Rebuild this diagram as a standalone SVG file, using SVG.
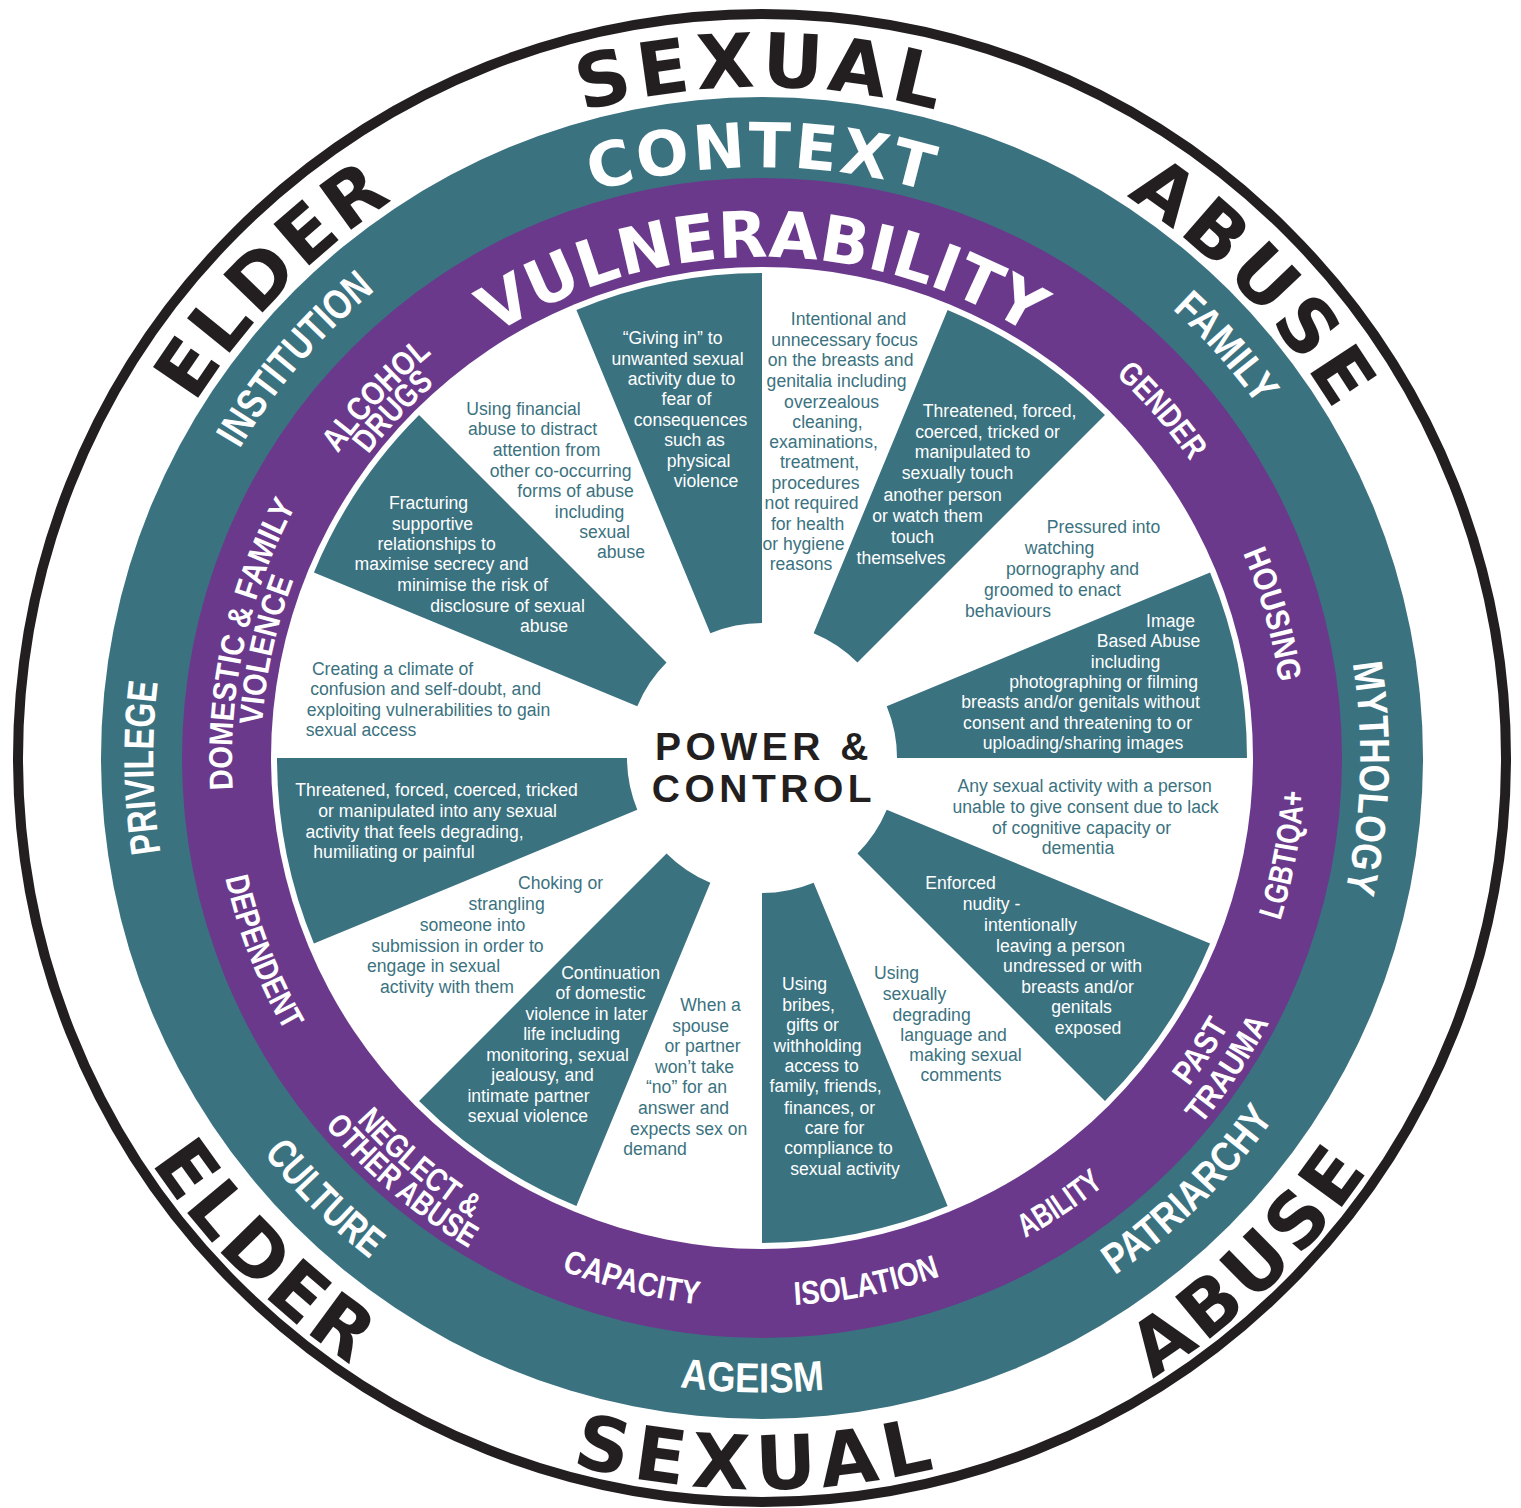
<svg xmlns="http://www.w3.org/2000/svg" width="1521" height="1508" viewBox="0 0 1521 1508">
<style>
.body{font-family:"Liberation Sans",Arial,sans-serif;font-size:17.6px;text-anchor:middle}
.tl{fill:#3b7280}
.wh{fill:#ffffff}
.big{font-family:"DejaVu Sans",sans-serif;font-weight:bold;fill:#231f20;font-size:75px;text-anchor:middle}
.hdr{font-family:"DejaVu Sans",sans-serif;font-weight:bold;fill:#ffffff;text-anchor:middle}
.ring{font-family:"Liberation Sans",Arial,sans-serif;font-weight:bold;fill:#ffffff;text-anchor:middle}
.tlab{font-size:42px}
.plab{font-size:33px}
.wedge{fill:#3b7280}
.pc{font-family:"Liberation Sans",Arial,sans-serif;font-weight:bold;font-size:39px;fill:#231f20;text-anchor:middle;letter-spacing:4.5px}
</style>
<defs>
<path id="pSexTop" d="M 91 758 A 671 671 0 0 1 1433 758"/>
<path id="pElderTop" d="M 292.53 1237.41 A 671 671 0 0 1 1231.47 278.59"/>
<path id="pAbuseTop" d="M 296.44 274.79 A 671 671 0 0 1 1227.56 1241.21"/>
<path id="pSexBot" d="M 29.02 752.88 A 733 733 0 0 0 1494.98 763.12"/>
<path id="pAbuseBot" d="M 235.96 1268.47 A 733 733 0 0 0 1288.04 247.53"/>
<path id="pElderBot" d="M 245.05 238.33 A 733 733 0 0 0 1278.95 1277.67"/>
<path id="pContext" d="M 171 758 A 591 591 0 0 1 1353 758"/>
<path id="pInstitution" d="M 367.78 1219.57 A 607 607 0 0 1 1156.22 296.43"/>
<path id="pFamily" d="M 359.13 302.63 A 608 608 0 0 1 1164.87 1213.37"/>
<path id="pMythology" d="M 781.86 159.33 A 599 599 0 0 1 742.14 1356.67"/>
<path id="pPrivilege" d="M 771.57 1366.93 A 609 609 0 0 1 752.43 149.07"/>
<path id="pCulture" d="M 309.29 308.45 A 638 638 0 0 0 1214.71 1207.55"/>
<path id="pAgeism" d="M 126.08 748.01 A 636 636 0 0 0 1397.92 767.99"/>
<path id="pPatriarchy" d="M 316.27 1197.55 A 626 626 0 0 0 1207.73 318.45"/>
<path id="pVuln" d="M 261 758 A 501 501 0 0 1 1263 758"/>
<path id="pGender" d="M 419.54 364.04 A 522 522 0 0 1 1104.46 1151.96"/>
<path id="pHousing" d="M 620.21 253.55 A 524 524 0 0 1 903.79 1262.45"/>
<path id="pLgbt" d="M 662.50 1294.85 A 546 546 0 0 0 861.50 221.15"/>
<path id="pPast" d="M 461.83 1208.08 A 541 541 0 0 0 1062.17 307.92"/>
<path id="pTrauma" d="M 444.63 1233.88 A 572 572 0 0 0 1079.37 282.12"/>
<path id="pAbility" d="M 305.26 1062.61 A 549 549 0 0 0 1218.74 453.39"/>
<path id="pIsolation" d="M 224.43 864.44 A 548 548 0 0 0 1299.57 651.56"/>
<path id="pCapacity" d="M 228.33 624.94 A 550 550 0 0 0 1295.67 891.06"/>
<path id="pNeglect" d="M 346.49 406.87 A 544 544 0 0 0 1177.51 1109.13"/>
<path id="pOther" d="M 325.64 386.63 A 573 573 0 0 0 1198.36 1129.37"/>
<path id="pDependent" d="M 563.11 245.22 A 550 550 0 0 0 960.89 1270.78"/>
<path id="pDomestic" d="M 647.29 1275.44 A 530 530 0 0 1 876.71 240.56"/>
<path id="pViolence" d="M 655.27 1247.50 A 501 501 0 0 1 868.73 268.50"/>
<path id="pAlcohol" d="M 404.51 1138.38 A 522 522 0 0 1 1119.49 377.62"/>
<path id="pDrugs" d="M 421.63 1120.16 A 497 497 0 0 1 1102.37 395.84"/>
</defs>

<rect width="1521" height="1508" fill="#ffffff"/>

<g id="rings">
<circle cx="762" cy="758" r="744" fill="none" stroke="#231f20" stroke-width="10"/>
<circle cx="762" cy="758" r="661" fill="#3b7280"/>
<circle cx="762" cy="758" r="580" fill="#6a398b"/>
<circle cx="762" cy="758" r="491" fill="#ffffff"/>
</g>

<g id="outer-title">
<text class="big" letter-spacing="6"><textPath href="#pSexTop" startOffset="50%">SEXUAL</textPath></text>
<text class="big" letter-spacing="4"><textPath href="#pElderTop" startOffset="50%">ELDER</textPath></text>
<text class="big" letter-spacing="5"><textPath href="#pAbuseTop" startOffset="50%">ABUSE</textPath></text>
<text class="big" letter-spacing="8"><textPath href="#pSexBot" startOffset="50%">SEXUAL</textPath></text>
<text class="big" letter-spacing="5"><textPath href="#pAbuseBot" startOffset="50%">ABUSE</textPath></text>
<text class="big" letter-spacing="4"><textPath href="#pElderBot" startOffset="50%">ELDER</textPath></text>
</g>

<g id="context-ring">
<text class="hdr" font-size="62" letter-spacing="2.5"><textPath href="#pContext" startOffset="50%">CONTEXT</textPath></text>
<text class="ring tlab"><textPath href="#pInstitution" startOffset="50%" textLength="210" lengthAdjust="spacingAndGlyphs">INSTITUTION</textPath></text>
<text class="ring tlab"><textPath href="#pFamily" startOffset="50%" textLength="129" lengthAdjust="spacingAndGlyphs">FAMILY</textPath></text>
<text class="ring tlab"><textPath href="#pMythology" startOffset="50%" textLength="230" lengthAdjust="spacingAndGlyphs">MYTHOLOGY</textPath></text>
<text class="ring tlab"><textPath href="#pPrivilege" startOffset="50%" textLength="171" lengthAdjust="spacingAndGlyphs">PRIVILEGE</textPath></text>
<text class="ring tlab"><textPath href="#pCulture" startOffset="50%" textLength="150" lengthAdjust="spacingAndGlyphs">CULTURE</textPath></text>
<text class="ring tlab"><textPath href="#pAgeism" startOffset="50%" textLength="145" lengthAdjust="spacingAndGlyphs">AGEISM</textPath></text>
<text class="ring tlab"><textPath href="#pPatriarchy" startOffset="50%" textLength="225" lengthAdjust="spacingAndGlyphs">PATRIARCHY</textPath></text>
</g>

<g id="vulnerability-ring">
<text class="hdr" font-size="64"><textPath href="#pVuln" startOffset="50%">VULNERABILITY</textPath></text>
<text class="ring plab"><textPath href="#pGender" startOffset="50%" textLength="114" lengthAdjust="spacingAndGlyphs">GENDER</textPath></text>
<text class="ring plab"><textPath href="#pHousing" startOffset="50%" textLength="135" lengthAdjust="spacingAndGlyphs">HOUSING</textPath></text>
<text class="ring plab"><textPath href="#pLgbt" startOffset="50%" textLength="132" lengthAdjust="spacingAndGlyphs">LGBTIQA+</textPath></text>
<text class="ring plab"><textPath href="#pPast" startOffset="50%" textLength="73" lengthAdjust="spacingAndGlyphs">PAST</textPath></text>
<text class="ring plab"><textPath href="#pTrauma" startOffset="50%" textLength="123" lengthAdjust="spacingAndGlyphs">TRAUMA</textPath></text>
<text class="ring plab"><textPath href="#pAbility" startOffset="50%" textLength="95" lengthAdjust="spacingAndGlyphs">ABILITY</textPath></text>
<text class="ring plab"><textPath href="#pIsolation" startOffset="50%" textLength="149" lengthAdjust="spacingAndGlyphs">ISOLATION</textPath></text>
<text class="ring plab"><textPath href="#pCapacity" startOffset="50%" textLength="142" lengthAdjust="spacingAndGlyphs">CAPACITY</textPath></text>
<text class="ring plab"><textPath href="#pNeglect" startOffset="50%" textLength="152" lengthAdjust="spacingAndGlyphs">NEGLECT &amp;</textPath></text>
<text class="ring plab"><textPath href="#pOther" startOffset="50%" textLength="190" lengthAdjust="spacingAndGlyphs">OTHER ABUSE</textPath></text>
<text class="ring plab"><textPath href="#pDependent" startOffset="50%" textLength="165" lengthAdjust="spacingAndGlyphs">DEPENDENT</textPath></text>
<text class="ring plab"><textPath href="#pDomestic" startOffset="50%" textLength="295" lengthAdjust="spacingAndGlyphs">DOMESTIC &amp; FAMILY</textPath></text>
<text class="ring plab"><textPath href="#pViolence" startOffset="50%" textLength="149" lengthAdjust="spacingAndGlyphs">VIOLENCE</textPath></text>
<text class="ring plab"><textPath href="#pAlcohol" startOffset="50%" textLength="138" lengthAdjust="spacingAndGlyphs">ALCOHOL</textPath></text>
<text class="ring plab"><textPath href="#pDrugs" startOffset="50%" textLength="97" lengthAdjust="spacingAndGlyphs">DRUGS</textPath></text>
</g>

<g id="wedge-giving-in">
<path class="wedge" d="M 576.40 309.92 A 485 485 0 0 1 762 273 L 762 623 A 135 135 0 0 0 710.34 633.28 Z"/>
<text class="body wh">
<tspan x="675" y="344">“Giving in” to</tspan>
<tspan x="680" y="365">unwanted sexual</tspan>
<tspan x="684" y="385">activity due to</tspan>
<tspan x="689" y="405">fear of</tspan>
<tspan x="693" y="426">consequences</tspan>
<tspan x="697" y="446">such as</tspan>
<tspan x="701" y="467">physical</tspan>
<tspan x="706" y="487">violence</tspan>
</text>
</g>

<g id="item-intentional-focus">
<text class="body tl">
<tspan x="851" y="325">Intentional and</tspan>
<tspan x="847" y="346">unnecessary focus</tspan>
<tspan x="843" y="366">on the breasts and</tspan>
<tspan x="839" y="387">genitalia including</tspan>
<tspan x="834" y="408">overzealous</tspan>
<tspan x="830" y="428">cleaning,</tspan>
<tspan x="826" y="448">examinations,</tspan>
<tspan x="822" y="468">treatment,</tspan>
<tspan x="818" y="489">procedures</tspan>
<tspan x="814" y="509">not required</tspan>
<tspan x="810" y="530">for health</tspan>
<tspan x="806" y="550">or hygiene</tspan>
<tspan x="801" y="570">reasons</tspan>
</text>
</g>

<g id="wedge-touch">
<path class="wedge" d="M 947.60 309.92 A 485 485 0 0 1 1104.95 415.05 L 857.46 662.54 A 135 135 0 0 0 813.66 633.28 Z"/>
<text class="body wh">
<tspan x="1002" y="417">Threatened, forced,</tspan>
<tspan x="990" y="438">coerced, tricked or</tspan>
<tspan x="975" y="458">manipulated to</tspan>
<tspan x="960" y="479">sexually touch</tspan>
<tspan x="945" y="501">another person</tspan>
<tspan x="930" y="522">or watch them</tspan>
<tspan x="915" y="543">touch</tspan>
<tspan x="901" y="564">themselves</tspan>
</text>
</g>

<g id="item-pornography">
<text class="body tl">
<tspan x="1106" y="533">Pressured into</tspan>
<tspan x="1062" y="554">watching</tspan>
<tspan x="1075" y="575">pornography and</tspan>
<tspan x="1055" y="596">groomed to enact</tspan>
<tspan x="1008" y="617">behaviours</tspan>
</text>
</g>

<g id="wedge-image-abuse">
<path class="wedge" d="M 1210.08 572.40 A 485 485 0 0 1 1247 758 L 897 758 A 135 135 0 0 0 886.72 706.34 Z"/>
<text class="body wh">
<tspan x="1173" y="627">Image</tspan>
<tspan x="1151" y="647">Based Abuse</tspan>
<tspan x="1128" y="668">including</tspan>
<tspan x="1106" y="688">photographing or filming</tspan>
<tspan x="1083" y="708">breasts and/or genitals without</tspan>
<tspan x="1080" y="729">consent and threatening to or</tspan>
<tspan x="1083" y="749">uploading/sharing images</tspan>
</text>
</g>

<g id="item-consent">
<text class="body tl">
<tspan x="1087" y="792">Any sexual activity with a person</tspan>
<tspan x="1088" y="813">unable to give consent due to lack</tspan>
<tspan x="1084" y="834">of cognitive capacity or</tspan>
<tspan x="1078" y="854">dementia</tspan>
</text>
</g>

<g id="wedge-nudity">
<path class="wedge" d="M 1210.08 943.60 A 485 485 0 0 1 1104.95 1100.95 L 857.46 853.46 A 135 135 0 0 0 886.72 809.66 Z"/>
<text class="body wh">
<tspan x="963" y="889">Enforced</tspan>
<tspan x="994" y="910">nudity -</tspan>
<tspan x="1033" y="931">intentionally</tspan>
<tspan x="1063" y="952">leaving a person</tspan>
<tspan x="1075" y="972">undressed or with</tspan>
<tspan x="1080" y="993">breasts and/or</tspan>
<tspan x="1084" y="1013">genitals</tspan>
<tspan x="1088" y="1034">exposed</tspan>
</text>
</g>

<g id="item-language">
<text class="body tl">
<tspan x="899" y="979">Using</tspan>
<tspan x="917" y="1000">sexually</tspan>
<tspan x="934" y="1021">degrading</tspan>
<tspan x="956" y="1041">language and</tspan>
<tspan x="968" y="1061">making sexual</tspan>
<tspan x="961" y="1081">comments</tspan>
</text>
</g>

<g id="wedge-bribes">
<path class="wedge" d="M 947.60 1206.08 A 485 485 0 0 1 762 1243 L 762 893 A 135 135 0 0 0 813.66 882.72 Z"/>
<text class="body wh">
<tspan x="807" y="990">Using</tspan>
<tspan x="811" y="1011">bribes,</tspan>
<tspan x="815" y="1031">gifts or</tspan>
<tspan x="820" y="1052">withholding</tspan>
<tspan x="824" y="1072">access to</tspan>
<tspan x="828" y="1092">family, friends,</tspan>
<tspan x="832" y="1114">finances, or</tspan>
<tspan x="837" y="1134">care for</tspan>
<tspan x="841" y="1154">compliance to</tspan>
<tspan x="845" y="1175">sexual activity</tspan>
</text>
</g>

<g id="item-spouse">
<text class="body tl">
<tspan x="713" y="1011">When a</tspan>
<tspan x="703" y="1032">spouse</tspan>
<tspan x="705" y="1052">or partner</tspan>
<tspan x="697" y="1073">won’t take</tspan>
<tspan x="689" y="1093">“no” for an</tspan>
<tspan x="686" y="1114">answer and</tspan>
<tspan x="691" y="1135">expects sex on</tspan>
<tspan x="655" y="1155">demand</tspan>
</text>
</g>

<g id="wedge-continuation">
<path class="wedge" d="M 576.40 1206.08 A 485 485 0 0 1 419.05 1100.95 L 666.54 853.46 A 135 135 0 0 0 710.34 882.72 Z"/>
<text class="body wh">
<tspan x="613" y="979">Continuation</tspan>
<tspan x="603" y="999">of domestic</tspan>
<tspan x="589" y="1020">violence in later</tspan>
<tspan x="574" y="1040">life including</tspan>
<tspan x="560" y="1061">monitoring, sexual</tspan>
<tspan x="545" y="1081">jealousy, and</tspan>
<tspan x="531" y="1102">intimate partner</tspan>
<tspan x="528" y="1122">sexual violence</tspan>
</text>
</g>

<g id="item-choking">
<text class="body tl">
<tspan x="563" y="889">Choking or</tspan>
<tspan x="509" y="910">strangling</tspan>
<tspan x="475" y="931">someone into</tspan>
<tspan x="460" y="952">submission in order to</tspan>
<tspan x="436" y="972">engage in sexual</tspan>
<tspan x="447" y="993">activity with them</tspan>
</text>
</g>

<g id="wedge-degrading">
<path class="wedge" d="M 313.92 943.60 A 485 485 0 0 1 277 758 L 627 758 A 135 135 0 0 0 637.28 809.66 Z"/>
<text class="body wh">
<tspan x="439" y="796">Threatened, forced, coerced, tricked</tspan>
<tspan x="440" y="817">or manipulated into any sexual</tspan>
<tspan x="417" y="838">activity that feels degrading,</tspan>
<tspan x="394" y="858">humiliating or painful</tspan>
</text>
</g>

<g id="item-confusion">
<text class="body tl">
<tspan x="395" y="675">Creating a climate of</tspan>
<tspan x="428" y="695">confusion and self-doubt, and</tspan>
<tspan x="431" y="716">exploiting vulnerabilities to gain</tspan>
<tspan x="361" y="736">sexual access</tspan>
</text>
</g>

<g id="wedge-fracturing">
<path class="wedge" d="M 313.92 572.40 A 485 485 0 0 1 419.05 415.05 L 666.54 662.54 A 135 135 0 0 0 637.28 706.34 Z"/>
<text class="body wh">
<tspan x="431" y="509">Fracturing</tspan>
<tspan x="435" y="530">supportive</tspan>
<tspan x="439" y="550">relationships to</tspan>
<tspan x="444" y="570">maximise secrecy and</tspan>
<tspan x="475" y="591">minimise the risk of</tspan>
<tspan x="510" y="612">disclosure of sexual</tspan>
<tspan x="544" y="632">abuse</tspan>
</text>
</g>

<g id="item-financial">
<text class="body tl">
<tspan x="526" y="415">Using financial</tspan>
<tspan x="535" y="435">abuse to distract</tspan>
<tspan x="549" y="456">attention from</tspan>
<tspan x="563" y="477">other co-occurring</tspan>
<tspan x="578" y="497">forms of abuse</tspan>
<tspan x="592" y="518">including</tspan>
<tspan x="607" y="538">sexual</tspan>
<tspan x="621" y="558">abuse</tspan>
</text>
</g>

<g id="hub">
<text class="pc"><tspan x="764" y="760">POWER &amp;</tspan><tspan x="764" y="802">CONTROL</tspan></text>
</g>

<g id="connectors"/>
</svg>
